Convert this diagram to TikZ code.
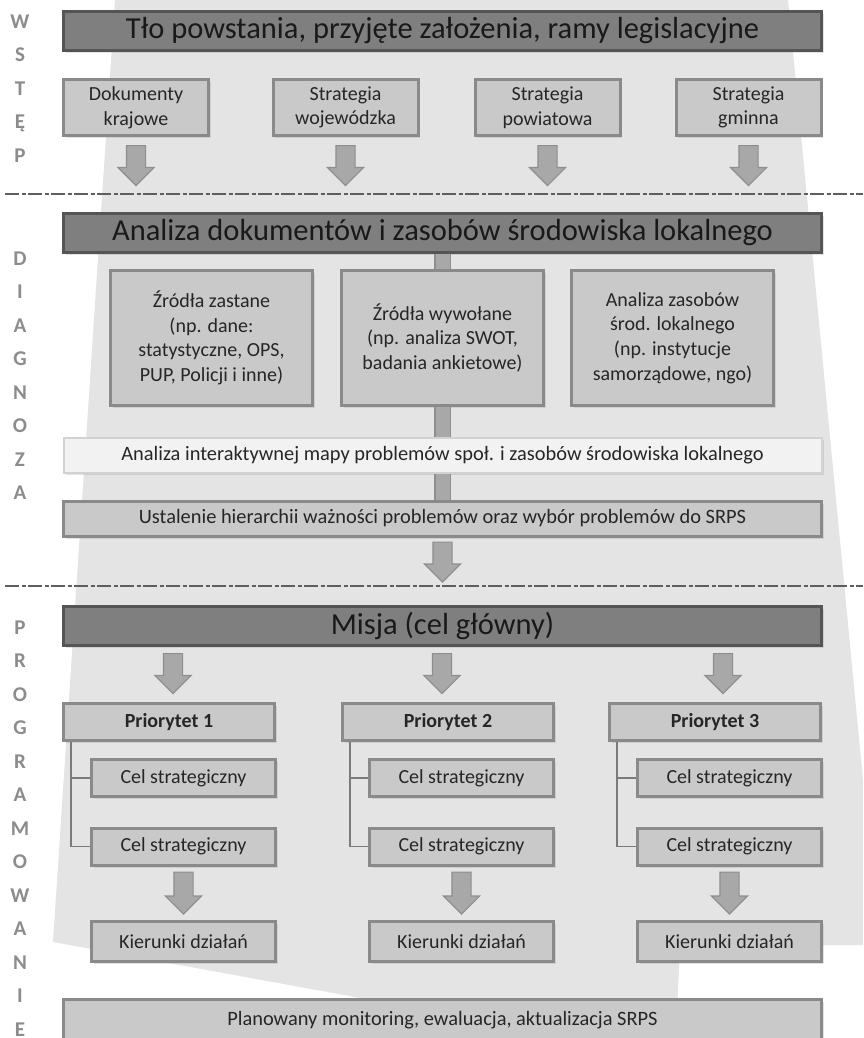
\documentclass[tikz,border=0pt]{standalone}
\usepackage{fontspec}
\setmainfont{Carlito}
\usetikzlibrary{positioning, shapes.arrows, shadows}

\definecolor{pagegray}{HTML}{E4E4E4}
\definecolor{headfill}{HTML}{7F7F7F}
\definecolor{headline}{HTML}{555555}
\definecolor{boxfill}{HTML}{C9C9C9}
\definecolor{boxline}{HTML}{8A8A8A}
\definecolor{mapfill}{HTML}{F2F2F2}
\definecolor{mapline}{HTML}{D2D2D2}
\definecolor{arrfill}{HTML}{A8A8A8}
\definecolor{arrline}{HTML}{8E8E8E}
\definecolor{linkgray}{HTML}{7A7A7A}
\definecolor{sepgray}{HTML}{5E5E5E}
\definecolor{sidegray}{HTML}{8C8C8C}
\definecolor{textgray}{HTML}{262626}

\tikzset{
  softshadow/.style={drop shadow={opacity=0.22, shadow xshift=2pt, shadow yshift=-2.5pt}},
  headbox/.style={softshadow, draw=headline, fill=headfill, line width=3pt,
    inner sep=0pt, minimum width=758pt, minimum height=39pt, text=black!90,
    font=\fontsize{30.5}{36}\selectfont},
  stepbox/.style={softshadow, draw=boxline, fill=boxfill, line width=3pt,
    inner sep=0pt, align=center, text=textgray,
    font=\fontsize{20}{24.6}\selectfont},
  docbox/.style={stepbox, minimum width=145pt, minimum height=56pt},
  srcbox/.style={stepbox, minimum width=202pt, minimum height=135pt},
  widebox/.style={stepbox, minimum width=758pt, minimum height=35pt,
    font=\fontsize{20.4}{24}\selectfont},
  mapbox/.style={widebox, draw=mapline, fill=mapfill, line width=2pt},
  priobox/.style={stepbox, minimum width=211pt, minimum height=37pt,
    font=\fontsize{20}{24.6}\selectfont\bfseries},
  goalbox/.style={stepbox, minimum width=184pt, minimum height=37pt},
  arrowdown/.style={single arrow, shape border rotate=270, draw=arrline,
    fill=arrfill, line width=1.2pt, inner sep=9pt,
    single arrow head extend=8.5pt, minimum height=40pt, anchor=tail},
  barline/.style={draw=arrline, double=arrfill, double distance=14pt, line width=1.2pt},
  branch/.style={draw=linkgray, line width=1.5pt},
  sepline/.style={draw=sepgray, line width=1.3pt,
    dash pattern=on 14pt off 2.5pt on 4pt off 2.5pt},
  sidelabel/.style={text=sidegray, align=center, inner sep=0pt, anchor=north,
    font=\fontsize{21}{33.5}\selectfont\bfseries}
}

\begin{document}
\begin{tikzpicture}[x=1pt, y=-1pt]
        \useasboundingbox (0,0) rectangle (863,1038);
        \clip (0,0) rectangle (863,1038);
        % Page in the background
        \fill[pagegray] (115,0) -- (788,0) -- (863,780) -- (863,945) -- (680,945)
            -- (676,1038) -- (580,1038) -- (53,942) -- cycle;
        % Section borders
        \draw[sepline] (5,194) -- (863,194);
        \draw[sepline] (5,586) -- (863,586);
        % Section names
        \node[sidelabel] (wstep) at (20,14.5) {W\\S\\T\\Ę\\P};
        \node[sidelabel] (diagnoza) at (20,251.5) {D\\I\\A\\G\\N\\O\\Z\\A};
        \node[sidelabel] (programowanie) at (20,620.5) {P\\R\\O\\G\\R\\A\\M\\O\\W\\A\\N\\I\\E};

        % Wstep
        \node[headbox] (tlo) at (442.5,31) {Tło powstania, przyjęte założenia, ramy legislacyjne};
        \node[docbox] (krajowe) at (136,107.5) {Dokumenty\\krajowe};
        \node[docbox] (wojewodzka) at (345.5,107.5) {Strategia\\wojewódzka};
        \node[docbox] (powiatowa) at (547.5,107.5) {Strategia\\powiatowa};
        \node[docbox] (gminna) at (748.5,107.5) {Strategia\\gminna};
        \node[arrowdown] (akrajowe) at ([yshift=-8pt]krajowe.south) {};
        \node[arrowdown] (awojewodzka) at ([yshift=-8pt]wojewodzka.south) {};
        \node[arrowdown] (apowiatowa) at ([yshift=-8pt]powiatowa.south) {};
        \node[arrowdown] (agminna) at ([yshift=-8pt]gminna.south) {};

        % Diagnoza
        \node[headbox] (analiza) at (442.5,232.5) {Analiza dokumentów i zasobów środowiska lokalnego};
        \node[srcbox] (zastane) at (211.5,338) {Źródła zastane\\(np. dane:\\statystyczne, OPS,\\PUP, Policji i inne)};
        \node[srcbox] (wywolane) at (442.5,338) {Źródła wywołane\\(np. analiza SWOT,\\badania ankietowe)};
        \node[srcbox] (zasoby) at (672.5,338) {Analiza zasobów\\środ. lokalnego\\(np. instytucje\\samorządowe, ngo)};
        \node[mapbox] (mapa) at (442.5,455) {Analiza interaktywnej mapy problemów społ. i zasobów środowiska lokalnego};
        \node[widebox] (hierarchia) at (442.5,518.5) {Ustalenie hierarchii ważności problemów oraz wybór problemów do SRPS};
        \draw[barline] (analiza) -- (wywolane);
        \draw[barline] (wywolane) -- (mapa);
        \draw[barline] (mapa) -- (hierarchia);
        \node[arrowdown] (ahierarchia) at ([yshift=-4pt]hierarchia.south) {};

        % Programowanie
        \node[headbox] (misja) at (442.5,625.5) {Misja (cel główny)};
        \node[priobox] (prio1) at (169,722) {Priorytet 1};
        \node[priobox] (prio2) at (448,722) {Priorytet 2};
        \node[priobox] (prio3) at (715,722) {Priorytet 3};
        \node[arrowdown] (aprio1) at (173,653) {};
        \node[arrowdown] (aprio2) at (442,653) {};
        \node[arrowdown] (aprio3) at (723,653) {};

        \node[goalbox] (cel11) at (183.5,778) {Cel strategiczny};
        \node[goalbox] (cel12) at (183.5,846.5) {Cel strategiczny};
        \node[goalbox] (cel21) at (461.5,778) {Cel strategiczny};
        \node[goalbox] (cel22) at (461.5,846.5) {Cel strategiczny};
        \node[goalbox] (cel31) at (729.5,778) {Cel strategiczny};
        \node[goalbox] (cel32) at (729.5,846.5) {Cel strategiczny};
        \draw[branch] ([xshift=9pt]prio1.south west) |- (cel11.west);
        \draw[branch] ([xshift=9pt]prio1.south west) |- (cel12.west);
        \draw[branch] ([xshift=9pt]prio2.south west) |- (cel21.west);
        \draw[branch] ([xshift=9pt]prio2.south west) |- (cel22.west);
        \draw[branch] ([xshift=9pt]prio3.south west) |- (cel31.west);
        \draw[branch] ([xshift=9pt]prio3.south west) |- (cel32.west);

        \node[goalbox, minimum height=40pt] (kier1) at (183.5,941.5) {Kierunki działań};
        \node[goalbox, minimum height=40pt] (kier2) at (461.5,941.5) {Kierunki działań};
        \node[goalbox, minimum height=40pt] (kier3) at (729.5,941.5) {Kierunki działań};
        \node[arrowdown, minimum height=42pt] (acel1) at ([yshift=-5pt]cel12.south) {};
        \node[arrowdown, minimum height=42pt] (acel2) at ([yshift=-5pt]cel22.south) {};
        \node[arrowdown, minimum height=42pt] (acel3) at ([yshift=-5pt]cel32.south) {};

        \node[widebox, minimum height=41pt] (monitoring) at (442.5,1020) {Planowany monitoring, ewaluacja, aktualizacja SRPS};
    \end{tikzpicture}
\end{document}
